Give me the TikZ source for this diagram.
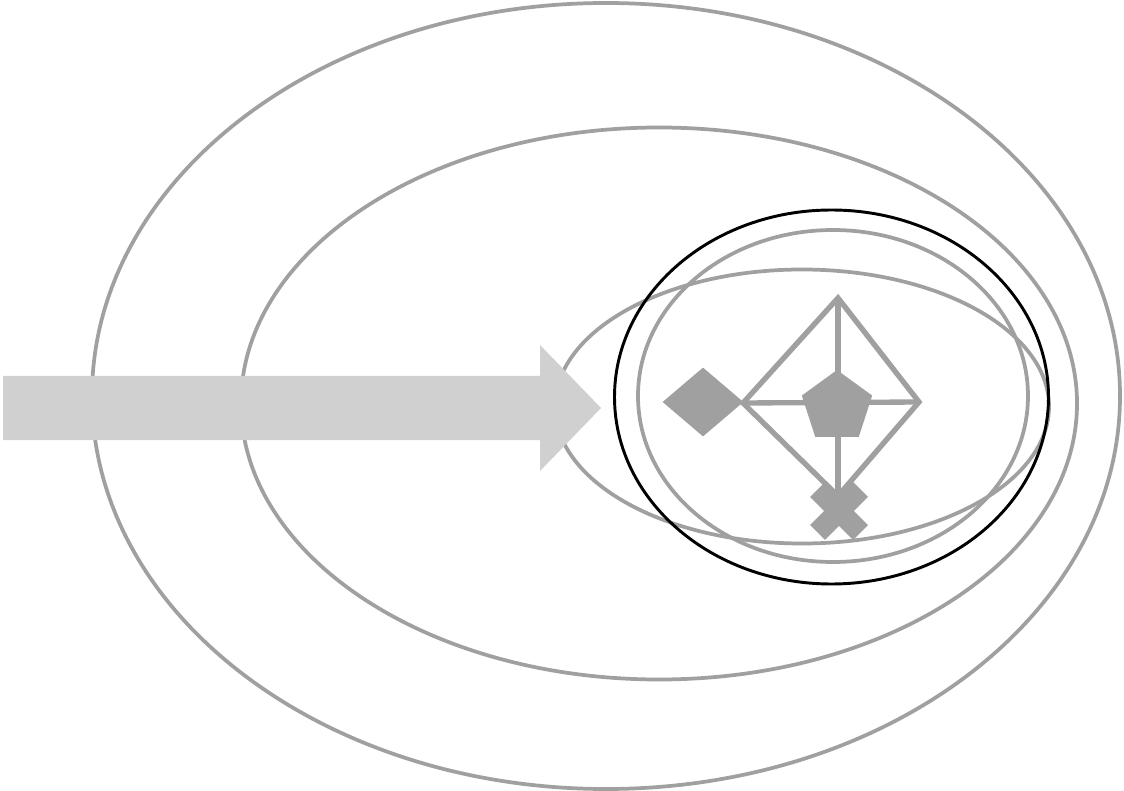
\documentclass[tikz,border=0pt]{standalone}
\usetikzlibrary{shapes.geometric}
\definecolor{ring}{HTML}{A0A0A0}
\definecolor{arrowgray}{HTML}{D0D0D0}
\begin{document}
\begin{tikzpicture}[x=0.75pt,y=-0.75pt,
  ringline/.style={draw=ring,line width=2.8pt},
  edge/.style={draw=ring,line width=4pt,line join=miter},
  marker/.style={fill=ring,draw=none,inner sep=0pt},
  crossarm/.style={draw=ring,line width=15.75pt}]
\useasboundingbox (0,0) rectangle (1124,791);
% rings
\draw[ringline] (606,396) ellipse [x radius=514,y radius=393];
\draw[ringline] (659,403.5) ellipse [x radius=418,y radius=276];
\draw[ringline] (802,406.5) ellipse [x radius=247,y radius=137];
% block arrow
\fill[arrowgray] (3,376) -- (540,376) -- (540,345) -- (601,408) -- (540,471) -- (540,440) -- (3,440) -- cycle;
\draw[ringline] (833,396) ellipse [x radius=195,y radius=166];
\draw[black,line width=2.2pt] (831.5,397) ellipse [x radius=217,y radius=187];
% graph
\coordinate (top) at (838,298);
\coordinate (lft) at (743,403);
\coordinate (rgt) at (919,402);
\coordinate (bot) at (838,496);
\draw[edge] (lft) -- (top) -- (rgt) -- (bot) -- cycle;
\draw[edge] (lft) -- (rgt);
\draw[edge] (top) -- (838,512);
\node[marker,diamond,minimum width=81*0.75pt,minimum height=69*0.75pt] (dia) at (703,402) {};
\node[marker,regular polygon,regular polygon sides=5,minimum size=74*0.75pt] (pent) at (837,407) {};
\coordinate (xm) at (839,511);
\draw[crossarm] ([shift={(-21.5,-21.5)}]xm) -- ([shift={(21.5,21.5)}]xm);
\draw[crossarm] ([shift={(-21.5,21.5)}]xm) -- ([shift={(21.5,-21.5)}]xm);
\end{tikzpicture}
\end{document}
